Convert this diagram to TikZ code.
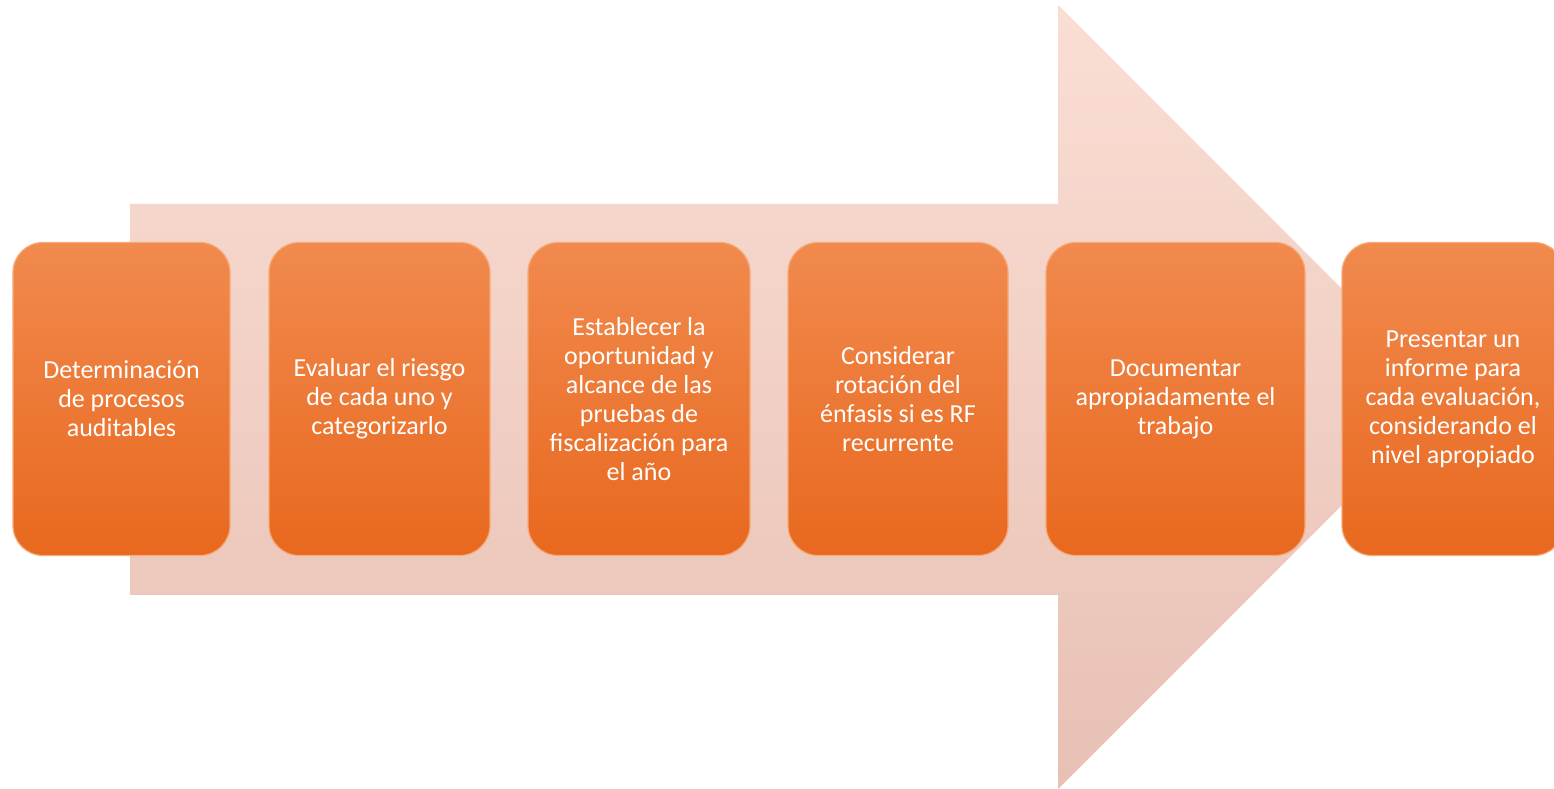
\documentclass[tikz,border=0pt]{standalone}
\usepackage{fontspec}
\setmainfont{Carlito}
\usepackage{tikz}
\usetikzlibrary{positioning}

\tikzset{
  stepbox/.style={rounded corners=30pt, minimum height=313pt, inner sep=0pt,
    top color=boxTop, bottom color=boxBottom, draw=boxEdge, line width=1.2pt,
    text=white, align=center, font=\fontsize{26}{29}\selectfont},
}

\begin{document}
\begin{tikzpicture}[x=1pt,y=1pt]
\definecolor{fillColor}{RGB}{255,255,255}
\definecolor{arrowTop}{RGB}{250,222,212}
\definecolor{arrowBottom}{RGB}{232,192,180}
\definecolor{boxTop}{RGB}{241,138,78}
\definecolor{boxBottom}{RGB}{232,104,30}
\definecolor{boxEdge}{RGB}{246,170,120}
\path[use as bounding box,fill=fillColor] (0,0) rectangle (1554,789);

% big arrow behind the steps
\path[top color=arrowTop,bottom color=arrowBottom] (130,194) -- (130,585) -- (1058,585) -- (1058,784) --
	(1450,392) --
	(1058,  0) -- (1058,194) -- cycle;

% steps
\node[stepbox,minimum width=217pt] (determinar) at ( 121.5,390) {Determinación\\de procesos\\auditables};
\node[stepbox,minimum width=221pt] (evaluar) at ( 379.5,390) {Evaluar el riesgo\\de cada uno y\\categorizarlo};
\node[stepbox,minimum width=222pt] (establecer) at ( 639.0,390) {Establecer la\\oportunidad y\\alcance de las\\pruebas de\\fiscalización para\\el año};
\node[stepbox,minimum width=220pt] (considerar) at ( 898.0,390) {Considerar\\rotación del\\énfasis si es RF\\recurrente};
\node[stepbox,minimum width=259pt] (documentar) at (1175.5,390) {Documentar\\apropiadamente el\\trabajo};
\node[stepbox,minimum width=222pt] (presentar) at (1453.0,390) {Presentar un\\informe para\\cada evaluación,\\considerando el\\nivel apropiado};
\end{tikzpicture}
\end{document}
